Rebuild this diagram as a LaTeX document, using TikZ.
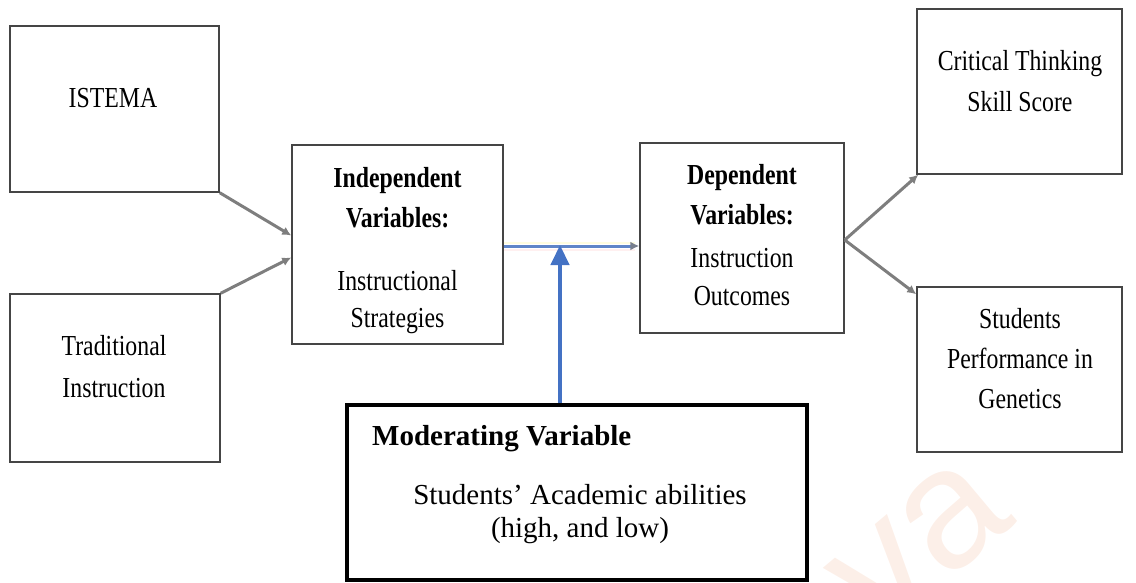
\documentclass[tikz,border=0pt]{standalone}
\usepackage{fontspec}
\setmainfont{Liberation Serif}
\newfontfamily\condfont[FakeStretch=0.82]{Liberation Serif}
\newfontfamily\markfont{Liberation Sans}
\usetikzlibrary{arrows.meta,calc}
\definecolor{boxline}{HTML}{454545}
\definecolor{greyarrow}{HTML}{7E7E7E}
\definecolor{modblue}{HTML}{4472C4}
\definecolor{linkblue}{HTML}{5F85C8}
\definecolor{markcol}{HTML}{FCEFE8}
\begin{document}
\begin{tikzpicture}[x=1pt,y=-1pt,
  box/.style={draw=boxline,line width=1.5pt,inner sep=0pt,fill=white},
  modbox/.style={draw=black,line width=4pt,inner sep=0pt,fill=white},
  cond/.style={font=\condfont\fontsize{29}{35}\selectfont,anchor=base,inner sep=0pt},
  condb/.style={font=\condfont\bfseries\fontsize{29}{35}\selectfont,anchor=base,inner sep=0pt},
  plain/.style={font=\fontsize{29}{35}\selectfont,anchor=base,inner sep=0pt},
  plainb/.style={font=\bfseries\fontsize{29}{35}\selectfont,anchor=base west,inner sep=0pt},
  feed/.style={draw=greyarrow,line width=3pt,-{Latex[length=9pt,width=9pt]}},
  modarrow/.style={draw=modblue,line width=4.5pt,-{Triangle[length=20pt,width=18pt]}}]
\useasboundingbox (0,0) rectangle (1136,583);
\clip (0,0) rectangle (1136,583);

% faint watermark in the lower right
\node[font=\markfont\fontsize{170}{170}\selectfont,text=markcol,rotate=40,inner sep=0pt] (mark) at (920,545) {va};

% boxes
\node[box,minimum width=209,minimum height=166] (istema) at (114.5,109) {};
\node[box,minimum width=210,minimum height=168] (trad) at (115,378) {};
\node[box,minimum width=211,minimum height=199] (indep) at (397.5,244.5) {};
\node[box,minimum width=204,minimum height=190] (dep) at (742,238) {};
\node[box,minimum width=205,minimum height=165] (crit) at (1019.5,91.5) {};
\node[box,minimum width=205,minimum height=165] (perf) at (1019.5,369.5) {};
\node[modbox,minimum width=460,minimum height=175] (mod) at (577,492.5) {};

% box texts
\node[cond] (t-istema) at (113,108) {ISTEMA};
\node[cond] (t-trad1) at (114,355) {Traditional};
\node[cond] (t-trad2) at (114,397) {Instruction};
\node[condb] (t-ind1) at (397.5,188) {Independent};
\node[condb] (t-ind2) at (397.5,227) {Variables:};
\node[cond] (t-ind3) at (397.5,290) {Instructional};
\node[cond] (t-ind4) at (397.5,327) {Strategies};
\node[condb] (t-dep1) at (742,185) {Dependent};
\node[condb] (t-dep2) at (742,225) {Variables:};
\node[cond] (t-dep3) at (742,267) {Instruction};
\node[cond] (t-dep4) at (742,305) {Outcomes};
\node[cond] (t-crit1) at (1020,71) {Critical Thinking};
\node[cond] (t-crit2) at (1020,112) {Skill Score};
\node[cond] (t-perf1) at (1020,328) {Students};
\node[cond] (t-perf2) at (1020,368) {Performance in};
\node[cond] (t-perf3) at (1020,408) {Genetics};
\node[plainb] (t-mod1) at (372,445) {Moderating Variable};
\node[plain] (t-mod2) at (580,504) {Students’ Academic abilities};
\node[plain] (t-mod3) at (580,537) {(high, and low)};

% inputs into the independent variables
\draw[feed] (istema.south east) -- ([yshift=9pt]indep.west);
\draw[feed] (trad.north east) -- ([yshift=-13pt]indep.west);

% independent -> dependent link
\coordinate (linkstart) at ([yshift=-1.5pt]indep.east);
\coordinate (linkend) at (linkstart -| dep.west);
\draw[draw=yellow!12,line width=2pt] ([yshift=3.5pt]linkstart) -- ([yshift=3.5pt,xshift=-4pt]linkend);
\draw[draw=red!6,line width=2pt] ([yshift=-3.5pt]linkstart) -- ([yshift=-3.5pt,xshift=-4pt]linkend);
\draw[draw=linkblue,line width=3pt,-{Latex[length=9pt,width=9pt,color=greyarrow!80!linkblue]}] (linkstart) -- (linkend);

% outputs of the dependent variables
\coordinate (fork) at ([yshift=-2pt]dep.east);
\draw[feed] (fork) -- ([xshift=2pt]crit.south west);
\draw[feed] (fork) -- ([yshift=-8pt]perf.north west);

% moderating variable acts on the link
\coordinate (hit) at (560,245);
\draw[modarrow] (mod.north -| hit) -- (hit);
\end{tikzpicture}
\end{document}
